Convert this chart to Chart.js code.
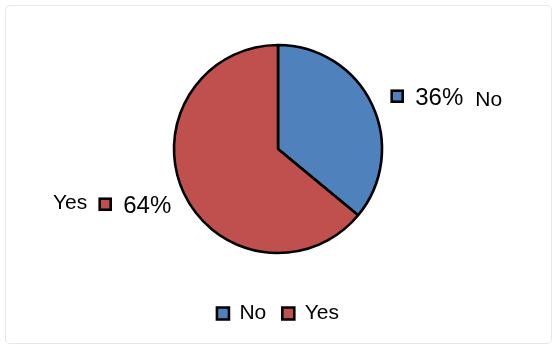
<!DOCTYPE html>
<html>
<head>
<meta charset="utf-8">
<script src="https://cdn.jsdelivr.net/npm/chart.js@4"></script>
<style>
  html, body { margin:0; padding:0; background:#fff; }
  #wrap { position:relative; width:560px; height:351px; }
  #frame { position:absolute; left:5px; top:5px; width:545px; height:337px;
           border:1px solid #e6e6e6; border-radius:5px; }
  canvas { position:absolute; left:0; top:0; }
</style>
</head>
<body>
<div id="wrap">
  <div id="frame"></div>
  <canvas id="pie" width="560" height="351"></canvas>
</div>
<script>
const categories = ['No', 'Yes'];
const shares = [36, 64];          // percent
const sliceColors = ['#4F81BD', '#C0504D'];

// data labels: legend key + percent + category name, placed beside each slice
const sliceLabels = {
  id: 'sliceLabels',
  afterDatasetsDraw(chart){
    const ctx = chart.ctx;
    const meta = chart.getDatasetMeta(0);
    const total = shares.reduce((a,b)=>a+b, 0);
    meta.data.forEach((arc, i) => {
      const p = arc.getProps(['x','y','startAngle','endAngle','outerRadius'], true);
      const mid = (p.startAngle + p.endAngle)/2;
      const right = Math.cos(mid) >= 0;
      const d = p.outerRadius + (right ? 20 : 14);
      const ax = p.x + Math.cos(mid)*d;
      const ay = p.y + Math.sin(mid)*d;
      const pct = Math.round(shares[i]/total*100) + '%';
      const name = categories[i];
      ctx.save();
      ctx.fillStyle = '#000';
      ctx.textBaseline = 'alphabetic';
      const pctFont = '24px "Liberation Sans", Arial, sans-serif';
      const nameFont = '21px "Liberation Sans", Arial, sans-serif';
      function key(x, y){
        ctx.fillStyle = sliceColors[i];
        ctx.fillRect(x+1.5, y-5.5, 11, 11);
        ctx.lineWidth = 2.6;
        ctx.strokeStyle = '#000';
        ctx.strokeRect(x+1.5, y-5.5, 11, 11);
        ctx.fillStyle = '#000';
      }
      if (right) {
        key(ax, ay);
        ctx.font = pctFont;
        ctx.textAlign = 'left';
        ctx.fillText(pct, ax + 25, ay + 8.5);
        const w = ctx.measureText(pct).width;
        ctx.font = nameFont;
        ctx.fillText(name, ax + 25 + w + 12, ay + 10);
      } else {
        const y = ay + 5;
        ctx.font = pctFont;
        ctx.textAlign = 'right';
        ctx.fillText(pct, ax, y + 8.5);
        const w = ctx.measureText(pct).width;
        const kx = ax - w - 11 - 14;
        key(kx, y);
        ctx.font = nameFont;
        ctx.fillText(name, kx - 11, y + 5);
      }
      ctx.restore();
    });
  }
};

new Chart(document.getElementById('pie').getContext('2d'), {
  type: 'pie',
  data: {
    labels: categories,
    datasets: [{
      data: shares,
      backgroundColor: sliceColors,
      borderColor: '#000',
      borderWidth: 2.6
    }]
  },
  options: {
    responsive: false,
    animation: false,
    radius: 104,
    layout: { padding: { top: 11, bottom: 17, left: 0, right: 4 } },
    plugins: {
      legend: {
        position: 'bottom',
        labels: {
          color: '#000',
          boxWidth: 12,
          boxHeight: 12,
          padding: 16,
          font: { family: '"Liberation Sans", Arial, sans-serif', size: 21 }
        }
      },
      tooltip: { enabled: false }
    }
  },
  plugins: [sliceLabels]
});
</script>
</body>
</html>
